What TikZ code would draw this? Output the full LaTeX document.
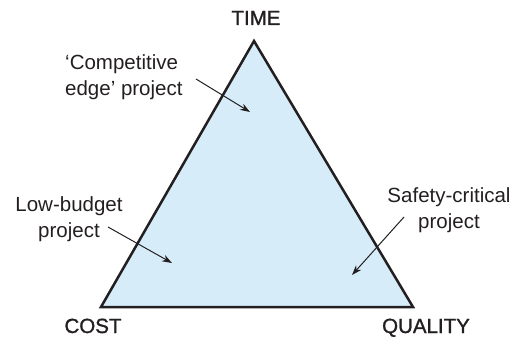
\documentclass[tikz,border=0pt]{standalone}
\usepackage{fontspec}
\usetikzlibrary{arrows.meta}
\setmainfont{Liberation Sans}
\newfontfamily\cornerfont[FakeBold=1.2]{Liberation Sans}
\definecolor{paleblue}{RGB}{214,236,249}
\definecolor{inkgray}{RGB}{35,31,32}
\tikzset{
  corner/.style={font=\cornerfont\fontsize{20.5}{24}\selectfont, anchor=base, inner sep=0pt},
  note/.style={font=\fontsize{20.5}{26}\selectfont, inner sep=0pt},
  pointer/.style={->, line width=1pt},
}
\begin{document}
\begin{tikzpicture}[x=1pt, y=-1pt, >={Stealth[length=10pt,width=7pt]}, color=inkgray]
  \useasboundingbox (0,0) rectangle (516,339);
  % triangle
  \coordinate (top) at (254,41);
  \coordinate (left) at (101,307);
  \coordinate (right) at (413,307);
  \draw[line width=2.5pt, line join=miter, fill=paleblue] (top) -- (left) -- (right) -- cycle;
  % corners
  \node[corner] (time) at (256,25) {TIME};
  \node[corner] (cost) at (93,333) {COST};
  \node[corner] (quality) at (426,333) {QUALITY};
  % notes
  \node[note, align=left, anchor=west] (edge) at (65,77) {`Competitive\\edge' project};
  \node[note, align=center] (budget) at (69,219) {Low-budget\\project};
  \node[note, align=center] (safety) at (449,210) {Safety-critical\\project};
  \coordinate (edgeS) at (196,79);   \coordinate (edgeE) at (250,112);
  \coordinate (budgetS) at (108,227); \coordinate (budgetE) at (172,263);
  \coordinate (safetyS) at (404,217); \coordinate (safetyE) at (352,275);
  \draw[pointer] (edgeS) -- (edgeE);
  \draw[pointer] (budgetS) -- (budgetE);
  \draw[pointer] (safetyS) -- (safetyE);
\end{tikzpicture}
\end{document}
